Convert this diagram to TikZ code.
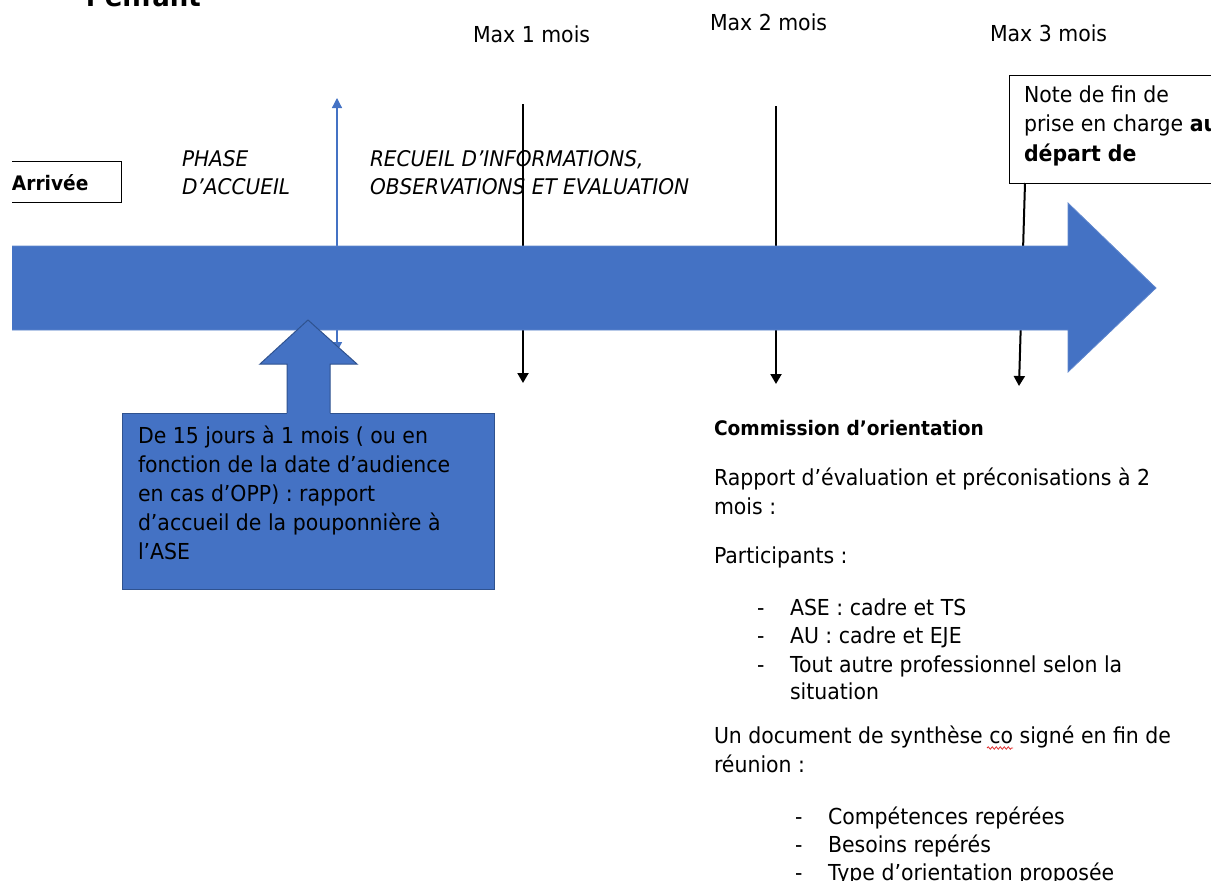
\documentclass[tikz,border=0pt]{standalone}
\usepackage{fontspec}
\setmainfont{DejaVu Sans}[FakeStretch=0.93]
\usetikzlibrary{arrows.meta,decorations.pathmorphing}
\definecolor{arrowblue}{HTML}{4472C4}
\definecolor{edgeblue}{HTML}{2F528F}
\definecolor{spellred}{HTML}{E03030}
\begin{document}
\begin{tikzpicture}[x=1pt,y=-1pt,
  every node/.style={inner sep=0pt,outer sep=0pt},
  txt/.style={anchor=base west,font=\fontsize{22}{29}\selectfont},
  btxt/.style={anchor=base west,font=\fontsize{20}{29}\selectfont\bfseries},
  itxt/.style={anchor=base west,font=\fontsize{21.6}{28}\selectfont\itshape},
  tick/.style={line width=2pt,-{Triangle[width=11pt,length=10pt]}},
  thinblue/.style={draw=arrowblue,line width=1.2pt,{Triangle[width=10pt,length=10pt]}-{Triangle[width=10pt,length=10pt]}},
  bigarrow/.style={fill=arrowblue,draw=arrowblue!85!white,line width=0.8pt},
  bluebox/.style={fill=arrowblue,draw=edgeblue,line width=1pt}]
\useasboundingbox (0,0) rectangle (1211,881);
\clip (12,0) rectangle (1211,881);

% title (cut at top)
\node[anchor=base west,font=\fontsize{28}{30}\selectfont\bfseries] (title) at (86,6) {l’enfant};

% Arrivee box
\node[draw,line width=1pt,minimum width=130pt,minimum height=41pt,anchor=north east] (arrbox) at (121,161) {};
\node[btxt] (arrivee) at (12,190) {Arrivée};

% phase labels
\node[itxt] (ph1) at (182,166) {PHASE};
\node[itxt] (ph2) at (182,194) {D’ACCUEIL};
\node[itxt] (rc1) at (370,166) {RECUEIL D’INFORMATIONS,};
\node[itxt] (rc2) at (370,194) {OBSERVATIONS ET EVALUATION};

% max labels
\node[txt] (m1) at (473,42) {Max 1 mois};
\node[txt] (m2) at (710,30) {Max 2 mois};
\node[txt] (m3) at (990,41) {Max 3 mois};

% note box
\node[draw,fill=white,line width=1pt,minimum width=230pt,minimum height=108pt,anchor=north west] (note) at (1009,75) {};
\node[txt] (n1) at (1024,102) {Note de fin de};
\node[txt] (n2) at (1024,131) {prise en charge \textbf{au}};
\node[txt,font=\fontsize{22}{29}\selectfont\bfseries] (n3) at (1024,161) {départ de};

% coordinates for connectors
\coordinate (bt) at (337,98);
\coordinate (bb) at (337,352);
\coordinate (t1a) at (523,104);
\coordinate (t1b) at (523,383);
\coordinate (t2a) at (776,106);
\coordinate (t2b) at (776,384);
\coordinate (t3a) at (1025,183);
\coordinate (t3b) at (1019,386);

% connectors behind the big arrow
\draw[thinblue] (bb) -- (bt);
\draw[tick] (t1a) -- (t1b);
\draw[tick] (t2a) -- (t2b);
\draw[tick] (t3a) -- (t3b);

% big timeline arrow
\draw[bigarrow] (0,246) -- (1068,246) -- (1068,203) -- (1156,288) -- (1068,372) -- (1068,330) -- (0,330) -- cycle;

% report box and up arrow
\node[bluebox,minimum width=372pt,minimum height=176pt,anchor=north west] (report) at (122,413) {};
\fill[arrowblue] (287,414) -- (287,364) -- (260,364) -- (308,320) -- (357,364) -- (330,364) -- (330,414) -- cycle;
\draw[edgeblue,line width=1pt] (287,413) -- (287,364) -- (260,364) -- (308,320) -- (357,364) -- (330,364) -- (330,413);

\node[txt] (r1) at (138,443) {De 15 jours à 1 mois ( ou en};
\node[txt] (r2) at (138,472) {fonction de la date d’audience};
\node[txt] (r3) at (138,501) {en cas d’OPP) : rapport};
\node[txt] (r4) at (138,530) {d’accueil de la pouponnière à};
\node[txt] (r5) at (138,559) {l’ASE};

% commission text
\node[btxt] (c1) at (714,435) {Commission d’orientation};
\node[txt] (c2) at (714,485) {Rapport d’évaluation et préconisations à 2};
\node[txt] (c3) at (714,514) {mois :};
\node[txt] (c4) at (714,563) {Participants :};
\node[txt] (d1) at (757,615) {-};
\node[txt] (d2) at (757,643) {-};
\node[txt] (d3) at (757,672) {-};
\node[txt] (l1) at (790,615) {ASE : cadre et TS};
\node[txt] (l2) at (790,643) {AU : cadre et EJE};
\node[txt] (l3) at (790,672) {Tout autre professionnel selon la};
\node[txt] (l4) at (790,699) {situation};
\node[txt] (c5) at (714,743) {Un document de synthèse co signé en fin de};
\node[txt] (c6) at (714,772) {réunion :};
\node[txt] (e1) at (795,824) {-};
\node[txt] (e2) at (795,852) {-};
\node[txt] (e3) at (795,880) {-};
\node[txt] (k1) at (828,824) {Compétences repérées};
\node[txt] (k2) at (828,852) {Besoins repérés};
\node[txt] (k3) at (828,880) {Type d’orientation proposée};

% spelling underline
\draw[spellred,line width=0.8pt,decorate,decoration={snake,amplitude=1.2pt,segment length=4pt}] (987,748) -- (1013,748);
\end{tikzpicture}
\end{document}
